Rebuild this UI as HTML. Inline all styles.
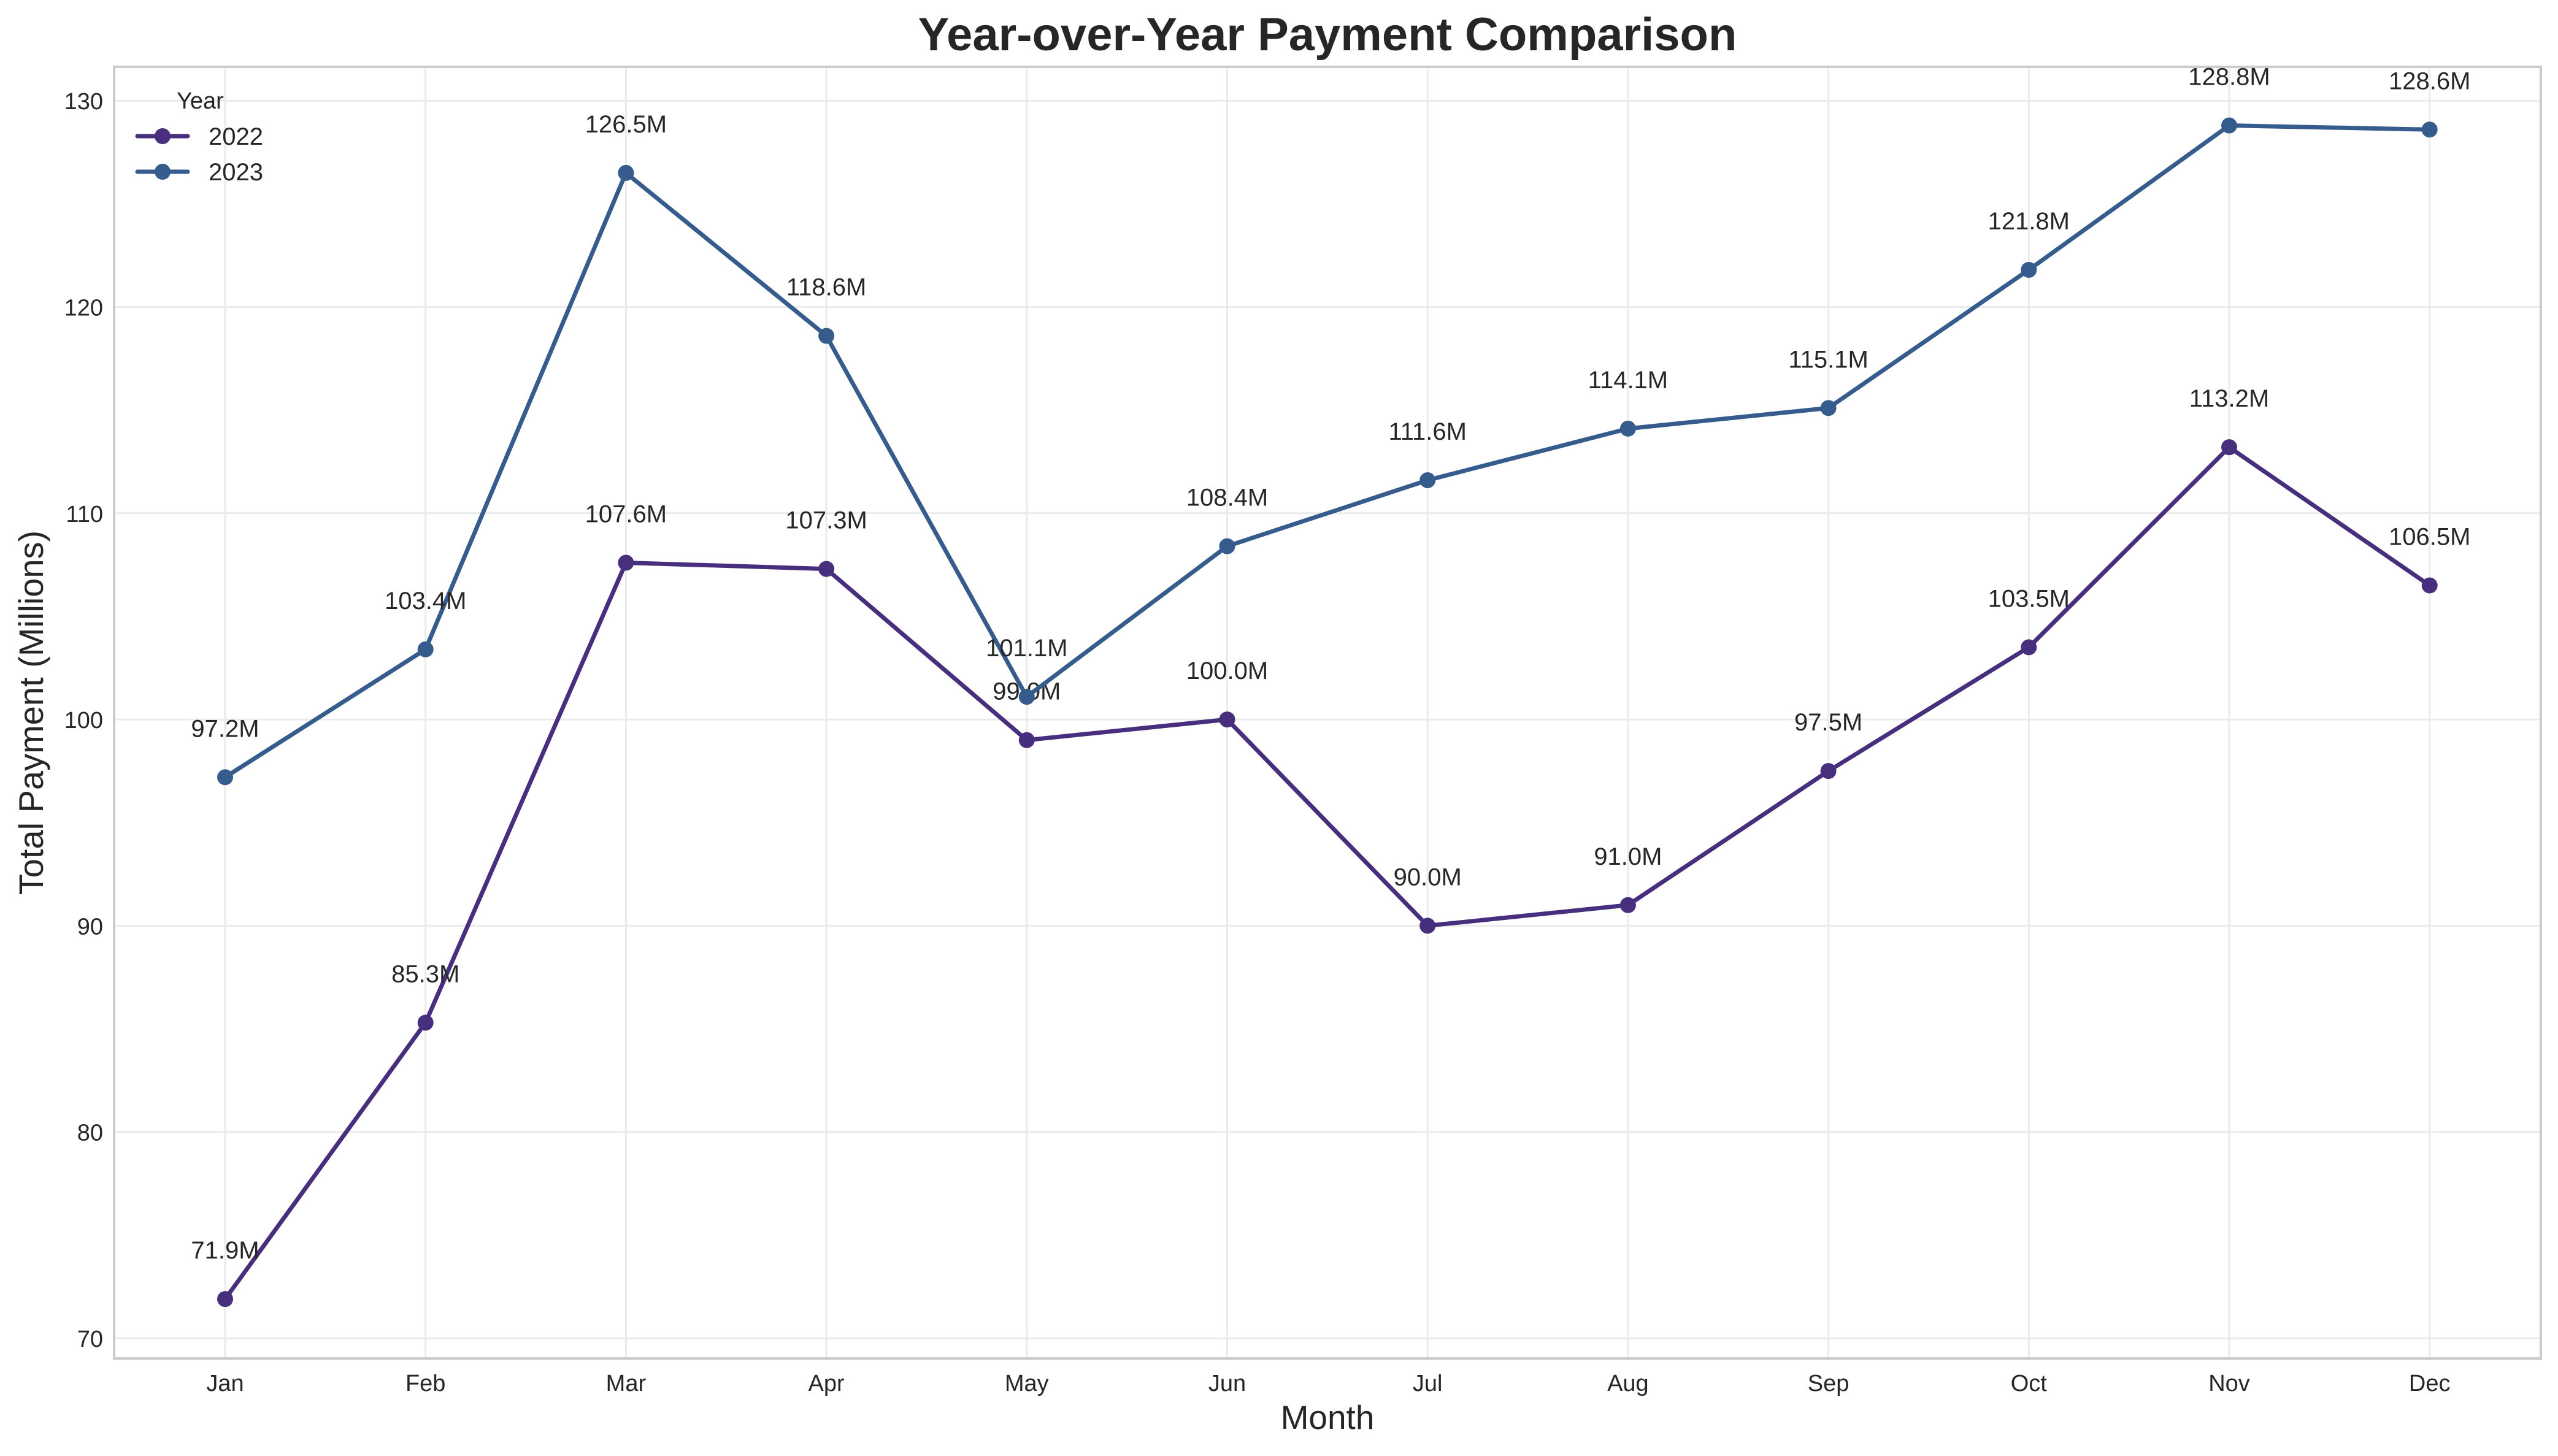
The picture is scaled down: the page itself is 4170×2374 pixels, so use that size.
<!DOCTYPE html>
<html><head><meta charset="utf-8"><style>
body{margin:0;background:#fff}
text{font-family:"Liberation Sans",sans-serif;fill:#262626}
</style></head><body>
<svg id="chart" width="4170" height="2369" xmlns="http://www.w3.org/2000/svg">
<rect width="4170" height="2369" fill="#fff"/>
<g id="grid"></g>
<rect x="186" y="109" width="3956" height="2106" fill="none" stroke="#cccccc" stroke-width="4"/>
<g id="ticks"></g>
<g id="series"></g>
<text x="2164" y="82" font-size="76" font-weight="bold" text-anchor="middle">Year-over-Year Payment Comparison</text>
<text x="2164" y="2330" font-size="55" text-anchor="middle">Month</text>
<text x="0" y="0" font-size="56" text-anchor="middle" transform="translate(70,1162) rotate(-90)">Total Payment (Millions)</text>
<g>
<text x="288" y="177" font-size="38">Year</text>
<g>
<line x1="224" y1="222" x2="306" y2="222" stroke="#472f7d" stroke-width="7" stroke-linecap="round"/>
<circle cx="265" cy="222" r="13" fill="#472f7d"/>
<text x="340" y="236" font-size="40">2022</text></g>
<g>
<line x1="224" y1="280" x2="306" y2="280" stroke="#365c8d" stroke-width="7" stroke-linecap="round"/>
<circle cx="265" cy="280" r="13" fill="#365c8d"/>
<text x="340" y="294" font-size="40">2023</text></g>
</g>
</svg>
<script>
const months=["Jan","Feb","Mar","Apr","May","Jun","Jul","Aug","Sep","Oct","Nov","Dec"];
const yTicks=[70,80,90,100,110,120,130];
const values2022=[71.9,85.3,107.6,107.3,99.0,100.0,90.0,91.0,97.5,103.5,113.2,106.5];
const values2023=[97.2,103.4,126.5,118.6,101.1,108.4,111.6,114.1,115.1,121.8,128.8,128.6];
const NS="http://www.w3.org/2000/svg";
function xs(i){return 367+i*326.7;}
function ys(v){return 2182-(v-70)*33.63;}
function mk(tag,attrs,parent){const e=document.createElementNS(NS,tag);for(const k in attrs)e.setAttribute(k,attrs[k]);parent.appendChild(e);return e;}
const grid=document.getElementById('grid'),ticks=document.getElementById('ticks'),series=document.getElementById('series');
months.forEach((m,i)=>{
 const l=mk('line',{x1:xs(i),x2:xs(i),y1:109,y2:2215,stroke:'#ebebeb','stroke-width':3},grid);
 
 
 const t=mk('text',{x:xs(i),y:2268,'font-size':38,'text-anchor':'middle'},ticks);
 t.textContent=m;
 
 
});
yTicks.forEach(v=>{
 const l=mk('line',{x1:186,x2:4142,y1:ys(v),y2:ys(v),stroke:'#ebebeb','stroke-width':3},grid);
 
 
 const t=mk('text',{x:168,y:ys(v)+14,'font-size':38,'text-anchor':'end'},ticks);
 t.textContent=v;
 
 
});
function draw(vals,color,name){
 const g=mk('g',{},series);
 
 
 const p=mk('polyline',{points:vals.map((v,i)=>xs(i)+','+ys(v)).join(' '),fill:'none',stroke:color,'stroke-width':7,'stroke-linejoin':'round'},g);
 
 
 vals.forEach((v,i)=>{
  const c=mk('circle',{cx:xs(i),cy:ys(v),r:13,fill:color},g);
  
  
  const t=mk('text',{x:xs(i),y:ys(v)-66,'font-size':40,'text-anchor':'middle'},g);
  t.textContent=v.toFixed(1)+'M';
  
  
 });
}
draw(values2022,'#472f7d','series-2022');
draw(values2023,'#365c8d','series-2023');
</script>
</body></html>
